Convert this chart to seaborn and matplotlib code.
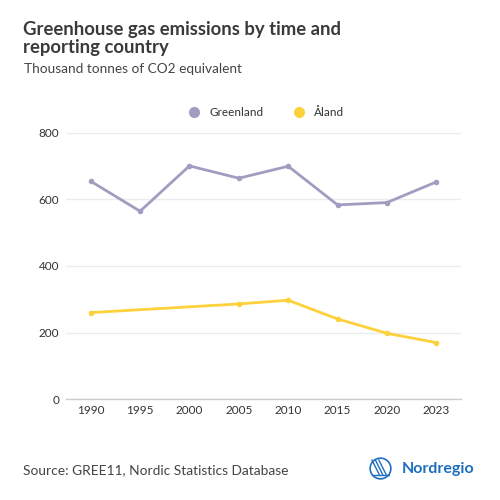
import matplotlib
matplotlib.use("Agg")
import matplotlib.pyplot as plt
import seaborn as sns
import pandas as pd
import numpy as np
from matplotlib.lines import Line2D
from matplotlib.patches import Circle

years = ["1990", "1995", "2000", "2005", "2010", "2015", "2020", "2023"]
greenland = [654, 564, 700, 663, 699, 583, 590, 652]
aland = [260, None, None, 286, 297, 241, 198, 170]
series_names = ["Greenland", "Åland"]
colors = ["#a19dc0", "#fdd13c"]

rows = []
for name, vals in zip(series_names, [greenland, aland]):
    for i, (y, v) in enumerate(zip(years, vals)):
        if v is not None:
            rows.append({"pos": i, "year": y, "value": v, "country": name})
df = pd.DataFrame(rows)

sns.set_theme(style="white")
plt.rcParams['font.family'] = ['Lato', 'DejaVu Sans']

fig = plt.figure(figsize=(5, 5), dpi=100)
ax = fig.add_axes([0.132, 0.2014, 0.79, 0.5335])

sns.lineplot(data=df, x="pos", y="value", hue="country", palette=colors,
             hue_order=series_names, marker="o", markersize=4, markeredgewidth=0,
             linewidth=2, ax=ax, legend=False)

ax.set_xlim(-0.5, len(years) - 0.5)
ax.set_ylim(0, 800)
ax.set_xticks(range(len(years)))
ax.set_xticklabels(years)
ax.set_yticks([0, 200, 400, 600, 800])
ax.set_xlabel("")
ax.set_ylabel("")
ax.grid(axis="y", color="#ececec", linewidth=1)
ax.set_axisbelow(True)
for s in ["top", "right", "left"]:
    ax.spines[s].set_visible(False)
ax.spines["bottom"].set_color("#cccccc")
ax.spines["bottom"].set_linewidth(1)
ax.tick_params(axis="both", length=0, labelsize=8.5, colors="#333333")
ax.tick_params(axis="x", pad=4)
ax.tick_params(axis="y", pad=5)

fig.text(0.046, 0.894, "Greenhouse gas emissions by time and\nreporting country",
         fontsize=13.3, fontweight="bold", color="#3a3a3a", va="baseline",
         linespacing=1.05)
fig.text(0.047, 0.854, "Thousand tonnes of CO2 equivalent", fontsize=9.8,
         color="#444444", va="baseline")

handles = [Line2D([0], [0], marker="o", color="none", markerfacecolor=c,
                  markeredgewidth=0, markersize=8) for c in colors]
fig.legend(handles, series_names, loc="center", bbox_to_anchor=(0.527, 0.775),
           ncol=2, frameon=False, fontsize=8.5, handletextpad=0.3,
           columnspacing=2.0, labelcolor="#333333")

fig.text(0.046, 0.06, "Source: GREE11, Nordic Statistics Database", fontsize=9.9,
         color="#444444", va="center")
fig.text(0.803, 0.062, "Nordregio", fontsize=11.5, color="#1f6fbf", va="center",
         fontweight="bold")

lax = fig.add_axes([0.738, 0.04, 0.046, 0.046])
lax.set_xlim(-1, 1)
lax.set_ylim(-1, 1)
lax.set_aspect("equal")
lax.axis("off")
lax.add_patch(Circle((0, 0), 0.9, fill=False, edgecolor="#1f6fbf", linewidth=1.2))
for off in [-0.45, -0.15, 0.15]:
    lax.plot([off - 0.3, off + 0.35], [0.75, -0.55], color="#1f6fbf", linewidth=1)
lax.plot([-0.7, 0.75], [-0.55, -0.55], color="#1f6fbf", linewidth=1)

fig.savefig("out.png", dpi=100, facecolor="white")
